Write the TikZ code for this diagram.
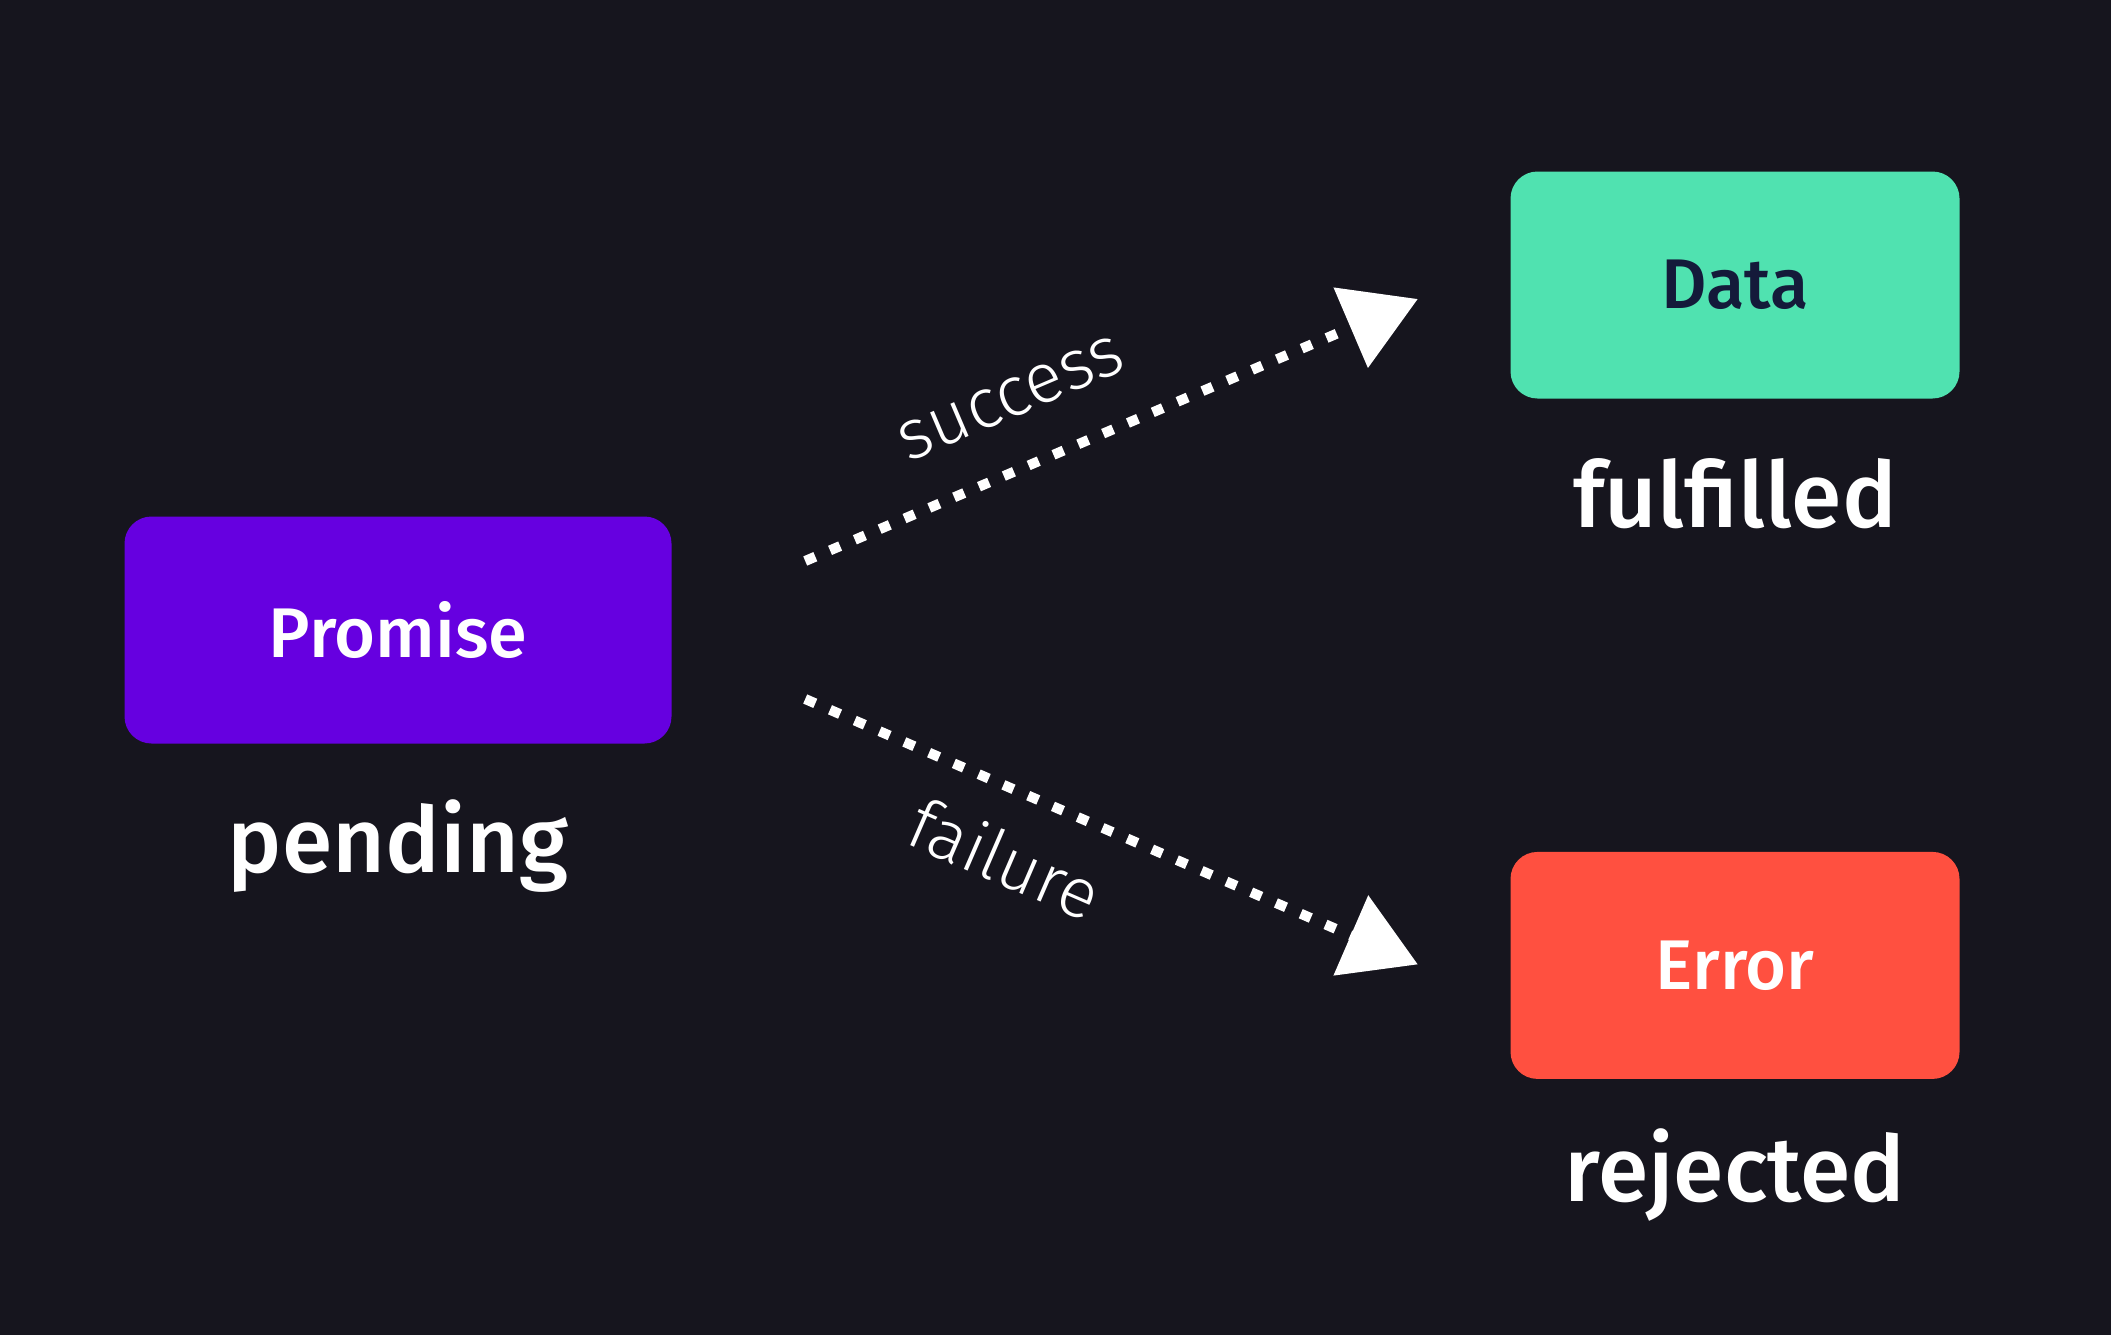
\documentclass[tikz,border=0pt]{standalone}
\usepackage{fontspec}
\setmainfont{Fira Sans}[BoldFont={Fira Sans Medium}]
\newfontfamily\lightfont{Fira Sans Light}
\usepackage{xcolor}
\usetikzlibrary{arrows.meta,positioning,calc}

\definecolor{bgdark}{HTML}{16151E}
\definecolor{promisepurple}{HTML}{6600E0}
\definecolor{datagreen}{HTML}{50E2B0}
\definecolor{errorred}{HTML}{FF5040}
\definecolor{inknavy}{HTML}{141A3A}

\begin{document}
\begin{tikzpicture}[
    box/.style={rounded corners=0.27cm, align=center, minimum height=2.27cm, font=\fontsize{20}{24}\selectfont\bfseries},
    state/.style={text=white, font=\fontsize{26}{31}\selectfont\bfseries, inner sep=0pt},
    flow/.style={-{Triangle[length=0.73cm, width=0.85cm]}, white, line width=0.1cm, dash pattern=on 0.11cm off 0.16cm},
    lbl/.style={text=white, font=\fontsize{20}{24}\selectfont\lightfont, inner sep=0pt, sloped}
]
\fill[bgdark] (0,0) rectangle (21.11,13.35);

\node[box, fill=promisepurple, text=white, minimum width=5.47cm] (promise) at (3.98,7.05) {Promise};
\node[box, fill=datagreen, text=inknavy, minimum width=4.49cm] (data) at (17.35,10.50) {Data};
\node[box, fill=errorred, text=white, minimum width=4.49cm, below=4.52cm of data] (error) {Error};

\node[state, below=1.28cm of promise, anchor=base] (pending) {pending};
\node[state, below=1.28cm of data, anchor=base] (fulfilled) {fulfilled};
\node[state, below=1.22cm of error, anchor=base] (rejected) {rejected};

% outcomes
\draw[flow] ($(promise.east)+(1.33,0.69)$) -- node[lbl, above=0.44cm, pos=0.38] (succ) {success} ($(data.west)+(-0.92,-0.14)$);
\draw[flow] ($(promise.east)+(1.33,-0.69)$) -- node[lbl, below=0.35cm, pos=0.37] (fail) {failure} ($(error.west)+(-0.92,0.01)$);
\end{tikzpicture}
\end{document}
